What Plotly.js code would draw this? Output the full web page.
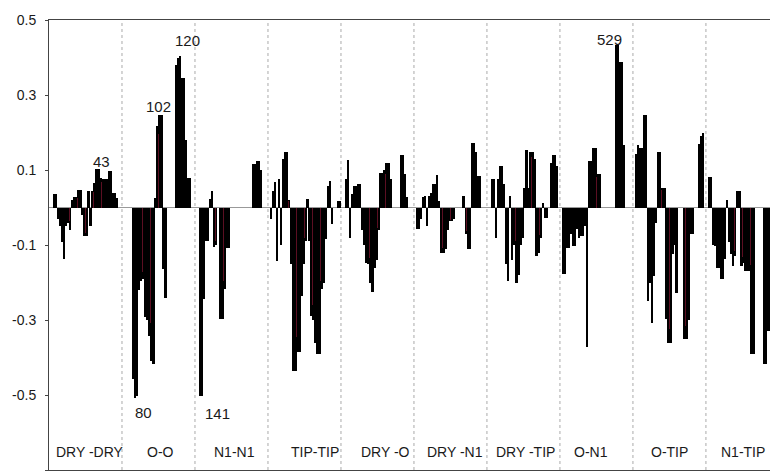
<!DOCTYPE html>
<html>
<head>
<meta charset="utf-8">
<script src="https://cdn.plot.ly/plotly-3.0.1.min.js"></script>
<style>html,body{margin:0;padding:0;background:#fff;}#chart{width:770px;height:476px;}</style>
</head>
<body>
<div id="chart"></div>
<script>
// ---- data (one value per slot, null = no bar) ----
const groupNames = ['DRY -DRY','O-O','N1-N1','TIP-TIP','DRY -O','DRY -N1','DRY -TIP','O-N1','O-TIP','N1-TIP'];
const slotsPerGroup = 36;

const dryDry = [null,null,0.035,0.035,-0.03,-0.05,-0.093,-0.136,-0.05,-0.04,-0.06,0.02,0.028,0.028,0.048,0.048,-0.02,-0.076,-0.076,0.045,-0.05,0.045,0.066,0.102,0.102,0.08,0.075,0.075,0.075,0.098,0.098,0.04,0.04,0.025,null,null];
const oO = [null,null,null,null,null,-0.458,-0.507,-0.502,-0.22,-0.196,-0.19,-0.293,-0.3,-0.342,-0.41,-0.418,0.025,0.218,0.246,0.246,-0.165,-0.242,null,null,null,null,0.38,0.40,0.404,0.345,0.345,0.18,0.08,0.08,null,null];
const n1N1 = [null,null,-0.502,-0.502,-0.245,-0.089,-0.089,0.022,0.044,-0.106,-0.1,null,-0.298,-0.298,-0.218,-0.107,-0.107,null,null,null,null,null,null,null,null,null,null,null,0.116,0.116,0.123,0.123,0.1,null,null,null];
const tipTip = [null,-0.031,0.044,0.067,-0.142,0.077,-0.1,0.13,0.148,0.148,0.02,-0.151,-0.436,-0.436,-0.385,-0.385,-0.236,-0.15,-0.089,0.022,-0.089,-0.289,-0.3,-0.36,-0.391,-0.391,-0.218,-0.2,-0.084,0.058,0.071,-0.044,null,null,0.018,0.018];
const dryO = [null,null,0.075,0.127,-0.08,0.035,0.058,0.058,0.062,0.062,-0.06,-0.1,-0.147,-0.15,-0.2,-0.226,-0.16,-0.14,-0.06,0.093,0.093,0.1,0.118,0.118,0.077,null,null,null,null,0.139,0.139,0.089,0.027,null,null,null];
const dryN1 = [null,-0.056,-0.056,-0.03,0.027,0.031,-0.05,0.03,0.04,0.062,0.062,0.086,0.018,-0.12,-0.12,-0.11,-0.06,-0.036,-0.036,-0.03,null,null,null,null,0.031,-0.071,-0.11,-0.11,0.173,0.173,0.149,0.083,0.083,null,null,null];
const dryTip = [null,null,0.077,0.077,-0.08,0.076,0.111,0.111,0.062,-0.15,-0.196,0.031,-0.14,-0.1,-0.202,-0.18,-0.1,-0.08,0.053,0.154,0.053,0.149,0.149,0.13,-0.129,-0.12,-0.08,0.013,-0.027,-0.027,null,0.118,0.14,0.14,0.111,null];
const oN1 = [null,-0.178,-0.178,-0.107,-0.107,-0.071,-0.102,-0.102,-0.058,-0.08,-0.075,-0.075,-0.049,-0.373,0.124,0.124,0.16,0.16,0.09,0.09,null,null,null,null,null,null,null,0.433,0.433,0.389,0.389,0.166,null,null,null,null];
const oTip = [null,0.142,0.168,0.16,0.16,0.246,0.246,-0.249,-0.2,-0.307,-0.182,-0.04,0.148,0.148,0.053,0.053,-0.298,-0.36,-0.36,-0.124,-0.1,-0.227,null,null,null,-0.351,-0.351,-0.3,-0.07,-0.07,null,null,0.169,0.19,0.198,null];
const n1Tip = [null,0.082,0.082,-0.1,-0.102,-0.16,-0.16,-0.191,-0.191,-0.138,0.02,-0.093,-0.124,-0.156,-0.13,0.043,0.043,-0.156,-0.147,-0.169,-0.169,-0.169,-0.391,-0.391,null,null,null,null,-0.418,-0.418,-0.33,-0.33,-0.33,null,null,null];

const yTickVals = [0.5,0.3,0.1,-0.1,-0.3,-0.5,-0.7];
const yTickText = ['0.5','0.3','0.1','-0.1','-0.3','-0.5','-0.7'];

// peak labels: text, x (slot units), y (value units)
const peakText = ['43','102','120','80','141','529'];
const peakX = [25.6,53.3,68.0,45.9,82.8,275.7];
const peakY = [0.122,0.27,0.446,-0.546,-0.549,0.448];

// group label centres (slot units)
const groupLabelX = [19.7,54.7,91.2,130.7,165.7,199.5,234.5,267.0,305.7,342.0];
const groupLabelY = -0.652;

// ---- build ----
const groups = [dryDry,oO,n1N1,tipTip,dryO,dryN1,dryTip,oN1,oTip,n1Tip];
const xs = [], ys = [];
groups.forEach((arr,g)=>arr.forEach((v,i)=>{ xs.push(g*slotsPerGroup+i); ys.push(v); }));

// thin dark-red seams between some neighbouring bars (derived from the data)
const rx = [], ry = [];
for(let k=0;k<xs.length-1;k++){
  const a=ys[k], b=ys[k+1];
  if(a===null||b===null) continue;
  if((a>0)!==(b>0)) continue;
  if(k%4!==1) continue;
  const m=0.9*Math.min(Math.abs(a),Math.abs(b));
  rx.push(xs[k]+0.5); ry.push(a>0?m:-m);
}

const font = 'Liberation Sans, Arial, sans-serif';
const annotations = [];
peakText.forEach((t,k)=>annotations.push({x:peakX[k],y:peakY[k],xref:'x',yref:'y',text:t,showarrow:false,font:{family:font,size:15,color:'#1a1a1a'}}));
groupNames.forEach((t,k)=>annotations.push({x:groupLabelX[k],y:groupLabelY,xref:'x',yref:'y',text:t,showarrow:false,font:{family:font,size:14,color:'#1a1a1a'}}));

const shapes = [];
for(let g=1; g<groupNames.length; g++){
  shapes.push({type:'line',xref:'x',yref:'paper',x0:g*slotsPerGroup-0.5,x1:g*slotsPerGroup-0.5,y0:0,y1:1,layer:'below',line:{color:'#aaaaaa',width:1,dash:'dot'}});
}

const trace = {type:'bar',x:xs,y:ys,width:1.15,marker:{color:'#000000',line:{width:0}},hoverinfo:'skip'};
const seams = {type:'bar',x:rx,y:ry,width:0.25,marker:{color:'#5c0f22',line:{width:0}},hoverinfo:'skip'};

const layout = {
  width:770,height:476,
  margin:{l:49,r:0,t:20,b:6},
  paper_bgcolor:'#ffffff',plot_bgcolor:'#ffffff',
  showlegend:false,bargap:0,barmode:'overlay',
  xaxis:{range:[-0.5,355.1],showticklabels:false,ticks:'',showgrid:false,zeroline:false,showline:true,mirror:true,linecolor:'#444',linewidth:1},
  yaxis:{range:[-0.7,0.5],tickvals:yTickVals,ticktext:yTickText,showgrid:false,zeroline:true,zerolinecolor:'#999',zerolinewidth:1,
         showline:true,linecolor:'#444',linewidth:1,ticks:'outside',ticklen:3,tickcolor:'#444',ticklabelstandoff:6,
         tickfont:{family:font,size:14,color:'#1a1a1a'}},
  annotations:annotations,
  shapes:shapes
};
Plotly.newPlot('chart',[trace,seams],layout,{displayModeBar:false,staticPlot:true});
</script>
</body>
</html>
